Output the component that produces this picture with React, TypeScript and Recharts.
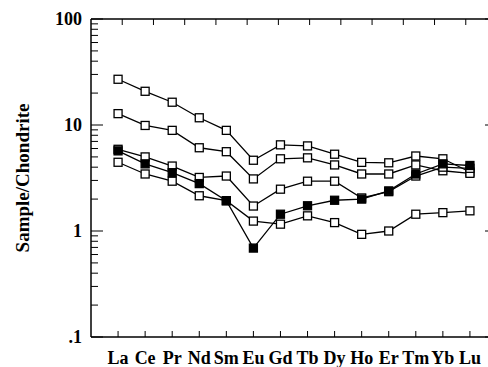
import React from 'react';
import { LineChart, Line, XAxis, YAxis } from 'recharts';

const elements = ['La', 'Ce', 'Pr', 'Nd', 'Sm', 'Eu', 'Gd', 'Tb', 'Dy', 'Ho', 'Er', 'Tm', 'Yb', 'Lu'];
const elementPos = [1, 2, 3, 4, 5, 6, 7, 8, 9, 10, 11, 12, 13, 14];

const sample1 = [27, 20.8, 16.4, 11.7, 8.9, 4.65, 6.5, 6.35, 5.3, 4.44, 4.4, 5.1, 4.8, 3.6];
const sample2 = [12.8, 9.9, 8.9, 6.1, 5.6, 3.1, 4.8, 4.9, 4.2, 3.45, 3.45, 4.2, 3.7, 3.5];
const sample3 = [5.9, 5.0, 4.1, 3.2, 3.3, 1.72, 2.48, 2.95, 2.95, 2.05, 2.35, 3.3, 4.0, 3.9];
const sample4 = [4.45, 3.45, 2.95, 2.15, 1.93, 1.24, 1.16, 1.39, 1.2, 0.93, 1.0, 1.44, 1.49, 1.55];
const sampleFilled = [5.7, 4.3, 3.55, 2.8, 1.93, 0.69, 1.44, 1.73, 1.95, 2.0, 2.39, 3.45, 4.3, 4.15];

const yTicks = [
  0.1, 0.2, 0.3, 0.4, 0.5, 0.6, 0.7, 0.8, 0.9,
  1, 2, 3, 4, 5, 6, 7, 8, 9,
  10, 20, 30, 40, 50, 60, 70, 80, 90,
  100,
];
const yLabels: Record<string, string> = { '0.1': '.1', '1': '1', '10': '10', '100': '100' };

const data = elementPos.map((x, i) => ({
  x,
  s1: sample1[i],
  s2: sample2[i],
  s3: sample3[i],
  s4: sample4[i],
  sf: sampleFilled[i],
}));

const FONT = '"Liberation Serif", "Times New Roman", serif';
const CHART_W = 488;
const LEFT_W = 91;
const RIGHT_M = -9;
const PLOT_W = CHART_W - LEFT_W - RIGHT_M;

const isMajor = (v: number) => Math.abs(Math.log10(v) - Math.round(Math.log10(v))) < 1e-6;

const squareDot = (filled: boolean) => (props: any) => {
  const { cx, cy, index, dataKey } = props;
  if (cx == null || cy == null) return <g key={`${dataKey}-${index}`} />;
  return (
    <rect
      key={`${dataKey}-${index}`}
      x={cx - 4}
      y={cy - 4}
      width={8}
      height={8}
      fill={filled ? '#000' : '#fff'}
      stroke="#000"
      strokeWidth={1.3}
    />
  );
};

const BottomTick = (props: any) => {
  const { x, y, payload } = props;
  const label = elements[payload.value - 1];
  return (
    <g>
      <line x1={x} y1={y} x2={x} y2={y - 6} stroke="#000" strokeWidth={1} />
      <text x={x} y={y + 27} textAnchor="middle" fontFamily={FONT} fontWeight="bold" fontSize={18} fill="#000">
        {label}
      </text>
    </g>
  );
};

const TopTick = (props: any) => {
  const { x, y } = props;
  return <line x1={x} y1={y} x2={x} y2={y + 6} stroke="#000" strokeWidth={1} />;
};

const LeftTick = (props: any) => {
  const { x, y, payload } = props;
  const major = isMajor(payload.value);
  const len = major ? 12 : 7;
  const label = yLabels[String(payload.value)];
  const rx = x + PLOT_W;
  return (
    <g>
      <line x1={x} y1={y} x2={x + len} y2={y} stroke="#000" strokeWidth={1} />
      <line x1={rx} y1={y} x2={rx - len} y2={y} stroke="#000" strokeWidth={1} />
      {major && label ? (
        <text x={x - 9} y={y} dy="0.35em" textAnchor="end" fontFamily={FONT} fontWeight="bold" fontSize={18} fill="#000">
          {label}
        </text>
      ) : null}
    </g>
  );
};

const YTitle = (props: any) => {
  const vb = props.viewBox || { x: 0, y: 19, width: 91, height: 318 };
  const cx = vb.x + 22;
  const cy = vb.y + vb.height / 2;
  return (
    <text
      x={cx}
      y={cy}
      transform={`rotate(-90, ${cx}, ${cy})`}
      textAnchor="middle"
      dy="0.35em"
      fontFamily={FONT}
      fontWeight="bold"
      fontSize={19}
      fill="#000"
    >
      Sample/Chondrite
    </text>
  );
};

const axisLine = { stroke: '#000', strokeWidth: 1.5 };

export default function App() {
  return (
    <div style={{ position: 'absolute', left: 0, top: 0, width: 488, height: 367, overflow: 'hidden', background: '#fff' }}>
      <LineChart width={CHART_W} height={367} data={data} margin={{ top: 0, right: RIGHT_M, bottom: 0, left: 0 }}>
        <XAxis
          xAxisId="bottom"
          dataKey="x"
          type="number"
          domain={[0, 15]}
          ticks={elementPos}
          interval={0}
          allowDataOverflow
          orientation="bottom"
          height={30}
          axisLine={axisLine}
          tickLine={false}
          tickSize={0}
          tickMargin={0}
          tick={<BottomTick />}
        />
        <XAxis
          xAxisId="top"
          type="number"
          domain={[0, 15]}
          ticks={elementPos}
          interval={0}
          allowDataOverflow
          orientation="top"
          height={19}
          axisLine={axisLine}
          tickLine={false}
          tickSize={0}
          tickMargin={0}
          tick={<TopTick />}
        />
        <YAxis
          yAxisId="left"
          type="number"
          scale="log"
          domain={[0.1, 100]}
          ticks={yTicks}
          interval={0}
          allowDataOverflow
          orientation="left"
          width={LEFT_W}
          axisLine={axisLine}
          tickLine={false}
          tickSize={0}
          tickMargin={0}
          tick={<LeftTick />}
          label={{ content: <YTitle /> } as any}
        />
        <Line xAxisId="bottom" yAxisId="left" type="linear" dataKey="s1" stroke="#000" strokeWidth={1.3} dot={squareDot(false)} isAnimationActive={false} />
        <Line xAxisId="bottom" yAxisId="left" type="linear" dataKey="s2" stroke="#000" strokeWidth={1.3} dot={squareDot(false)} isAnimationActive={false} />
        <Line xAxisId="bottom" yAxisId="left" type="linear" dataKey="s3" stroke="#000" strokeWidth={1.3} dot={squareDot(false)} isAnimationActive={false} />
        <Line xAxisId="bottom" yAxisId="left" type="linear" dataKey="s4" stroke="#000" strokeWidth={1.3} dot={squareDot(false)} isAnimationActive={false} />
        <Line xAxisId="bottom" yAxisId="left" type="linear" dataKey="sf" stroke="#000" strokeWidth={1.3} dot={squareDot(true)} isAnimationActive={false} />
      </LineChart>
    </div>
  );
}
